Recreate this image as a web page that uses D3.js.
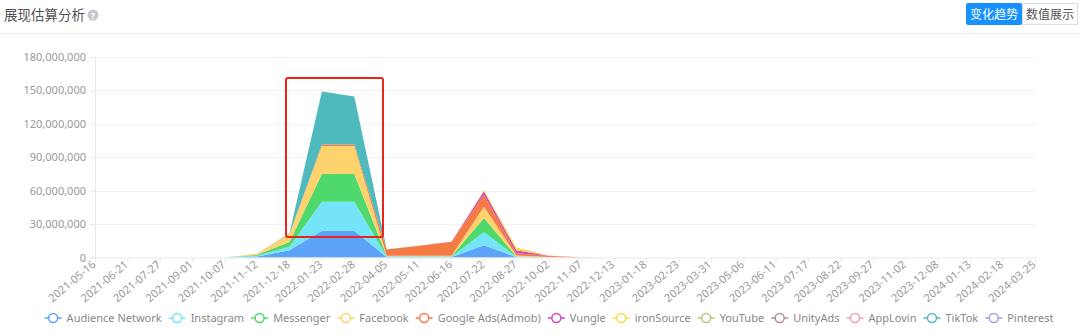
<!DOCTYPE html>
<html>
<head>
<meta charset="utf-8">
<script src="https://cdn.jsdelivr.net/npm/d3@7/dist/d3.min.js"></script>
<style>
  html, body { margin: 0; padding: 0; background: #fff; }
  svg { display: block; font-family: "Noto Sans", "Noto Sans CJK SC", sans-serif; }
</style>
</head>
<body>
<svg id="chart" width="1080" height="334"></svg>
<script>
// Category axis: sampling dates
const dates = [
  "2021-05-16","2021-06-21","2021-07-27","2021-09-01","2021-10-07","2021-11-12",
  "2021-12-18","2022-01-23","2022-02-28","2022-04-05","2022-05-11","2022-06-16",
  "2022-07-22","2022-08-27","2022-10-02","2022-11-07","2022-12-13","2023-01-18",
  "2023-02-23","2023-03-31","2023-05-06","2023-06-11","2023-07-17","2023-08-22",
  "2023-09-27","2023-11-02","2023-12-08","2024-01-13","2024-02-18","2024-03-25"
];

// Estimated impressions per channel, in millions
const audienceNetwork = [0,0,0,0,0,0.8,6.5,24,24,0.4,0.4,0.4,11,0.3,0.1,0,0,0,0,0,0,0,0,0,0,0,0,0,0,0];
const instagram       = [0,0,0,0,0,0.8,3.2,26,26,0.4,0.4,0.4,12,0.3,0.1,0,0,0,0,0,0,0,0,0,0,0,0,0,0,0];
const messenger       = [0,0,0,0,0,0.8,4.3,25,25,0.4,0.4,0.4,12.5,0.3,0.1,0,0,0,0,0,0,0,0,0,0,0,0,0,0,0];
const facebook        = [0,0,0,0,0,1.0,7.0,25,25,0.4,0.4,0.4,10,1.0,0.2,0,0,0,0,0,0,0,0,0,0,0,0,0,0,0];
const googleAds       = [0,0,0,0,0,0,0.3,1.5,1.5,5.5,9,12.5,10.5,2.0,0.8,0.2,0,0,0,0,0,0,0,0,0,0,0,0,0,0];
const vungle          = [0,0,0,0,0,0,0,0,0,0,0,0,3.5,2.5,0.3,0,0,0,0,0,0,0,0,0,0,0,0,0,0,0];
const ironSource      = [0,0,0,0,0,0,0,0,0,0,0,0,1.0,2.5,0.2,0,0,0,0,0,0,0,0,0,0,0,0,0,0,0];
const youTube         = [0,0,0,0,0,0,0,0,0,0,0,0,0,0,0,0,0,0,0,0,0,0,0,0,0,0,0,0,0,0];
const unityAds        = [0,0,0,0,0,0,0,0,0,0,0,0,0,0,0,0,0,0,0,0,0,0,0,0,0,0,0,0,0,0];
const appLovin        = [0,0,0,0,0,0,0,0,0,0,0,0.3,0,0,0,0,0,0,0,0,0,0,0,0,0,0,0,0,0,0];
const tikTok          = [0,0,0,0,0,0,0.5,47.5,43,0.3,0,0,0,0,0,0,0,0,0,0,0,0,0,0,0,0,0,0,0,0];
const pinterest       = [0,0,0,0,0,0,0,0,0,0,0,0,0,0,0,0,0,0,0,0,0,0,0,0,0,0,0,0,0,0];

const seriesNames = ["Audience Network","Instagram","Messenger","Facebook","Google Ads(Admob)",
  "Vungle","ironSource","YouTube","UnityAds","AppLovin","TikTok","Pinterest"];
const seriesValues = [audienceNetwork, instagram, messenger, facebook, googleAds,
  vungle, ironSource, youTube, unityAds, appLovin, tikTok, pinterest];
const seriesColors = ["#5ba3f6","#74e4f8","#4fd86b","#fed36e","#f57b45",
  "#d246be","#f3dc4a","#b5c57c","#b18f91","#f29bc1","#4fbabd","#a89ce4"];

const yTicks = [0, 30e6, 60e6, 90e6, 120e6, 150e6, 180e6];

const svg = d3.select("#chart");

// ---- header ----
svg.append("text").attr("x", 4).attr("y", 20)
  .attr("font-size", 13.5).attr("fill", "#555").text("展现估算分析");
svg.append("circle").attr("cx", 93).attr("cy", 15).attr("r", 5.5).attr("fill", "#c5c8ce");
svg.append("text").attr("x", 93).attr("y", 18.5).attr("text-anchor", "middle")
  .attr("font-size", 9).attr("font-weight", "bold").attr("fill", "#fff").text("?");

svg.append("rect").attr("x", 966).attr("y", 3).attr("width", 56).attr("height", 22)
  .attr("rx", 2).attr("fill", "#1890ff");
svg.append("text").attr("x", 994).attr("y", 18.5).attr("text-anchor", "middle")
  .attr("font-size", 12).attr("fill", "#fff").text("变化趋势");
svg.append("rect").attr("x", 1022.5).attr("y", 3.5).attr("width", 55).attr("height", 21)
  .attr("fill", "#fff").attr("stroke", "#dcdfe6");
svg.append("text").attr("x", 1050).attr("y", 18.5).attr("text-anchor", "middle")
  .attr("font-size", 12).attr("fill", "#555").text("数值展示");

svg.append("line").attr("x1", 0).attr("x2", 1080).attr("y1", 33.5).attr("y2", 33.5)
  .attr("stroke", "#f0f0f0");

// ---- scales ----
const x = d3.scalePoint().domain(dates).range([95, 1035]);
const y = d3.scaleLinear().domain([0, 180e6]).range([257.5, 57]);

// grid lines
svg.append("g").selectAll("line").data(yTicks.slice(1)).join("line")
  .attr("x1", 95).attr("x2", 1035)
  .attr("y1", d => Math.round(y(d)) + 0.5).attr("y2", d => Math.round(y(d)) + 0.5)
  .attr("stroke", "#f2f2f2");

// ---- stacked areas ----
const rows = dates.map((d, i) => {
  const r = { date: d };
  seriesNames.forEach((n, k) => { r[n] = seriesValues[k][i] * 1e6; });
  return r;
});
const stack = d3.stack().keys(seriesNames);
const layers = stack(rows);

const area = d3.area()
  .x(d => x(d.data.date))
  .y0(d => y(d[0]))
  .y1(d => y(d[1]));

const gArea = svg.append("g");
layers.forEach((layer, k) => {
  gArea.append("path").attr("d", area(layer)).attr("fill", seriesColors[k]);
});

// ---- axes ----
const yAxis = d3.axisLeft(y).tickValues(yTicks).tickFormat(d3.format(",")).tickSize(5).tickPadding(4);
const gy = svg.append("g").attr("transform", "translate(95,0)").call(yAxis);
gy.select(".domain").attr("stroke", "#e6e9ef");
gy.selectAll(".tick line").attr("stroke", "#e6e9ef");
gy.selectAll(".tick text").attr("fill", "#999").attr("font-size", 11)
  .attr("font-family", "'Noto Sans', sans-serif");

const xAxis = d3.axisBottom(x).tickSize(5).tickPadding(3);
const gx = svg.append("g").attr("transform", "translate(0,257.5)").call(xAxis);
gx.select(".domain").attr("stroke", "#e6e9ef").attr("d", "M95,0.5H1035");
gx.selectAll(".tick line").attr("stroke", "#e6e9ef");
gx.selectAll(".tick text").attr("fill", "#999").attr("font-size", 11)
  .attr("font-family", "'Noto Sans', sans-serif")
  .attr("text-anchor", "end")
  .attr("dy", "0.35em")
  .attr("transform", "translate(0,4) rotate(-40)")
  .attr("x", -2).attr("y", 0);

// ---- highlight box ----
svg.append("rect").attr("x", 286).attr("y", 78).attr("width", 97).attr("height", 159)
  .attr("rx", 2).attr("fill", "none").attr("stroke", "#e8251f").attr("stroke-width", 2);

// ---- legend ----
const gLeg = svg.append("g");
const iconW = 17, iconGap = 5, itemGap = 7;
let cursor = 0;
seriesNames.forEach((n, k) => {
  const g = gLeg.append("g");
  g.append("line").attr("x1", 0).attr("x2", iconW).attr("y1", 0).attr("y2", 0)
    .attr("stroke", seriesColors[k]).attr("stroke-width", 1.5);
  g.append("circle").attr("cx", iconW / 2).attr("cy", 0).attr("r", 4.5)
    .attr("fill", "#fff").attr("stroke", seriesColors[k]).attr("stroke-width", 1.5);
  const t = g.append("text").attr("x", iconW + iconGap).attr("y", 4)
    .attr("font-size", 11).attr("fill", "#888").text(n);
  const w = iconW + iconGap + t.node().getComputedTextLength();
  g.attr("transform", `translate(${cursor},318)`);
  cursor += w + itemGap;
});
const total = cursor - itemGap;
gLeg.attr("transform", `translate(${549 - total / 2},0)`);
</script>
</body>
</html>
